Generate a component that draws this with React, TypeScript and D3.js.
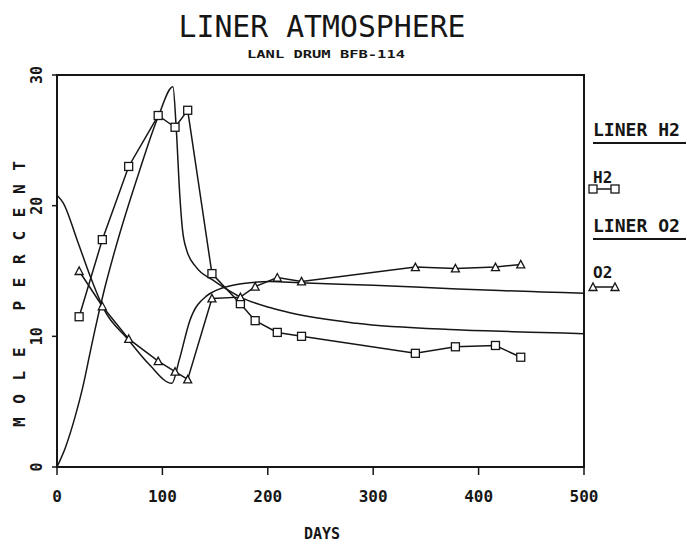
import React from 'react';
import * as d3 from 'd3';

// measured samples (days since closure)
const days = [21, 43, 68, 96, 112, 124, 147, 174, 188, 209, 232, 340, 378, 416, 440];
const h2Measured = [11.5, 17.4, 23.0, 26.9, 26.0, 27.3, 14.8, 12.5, 11.2, 10.3, 10.0, 8.7, 9.2, 9.3, 8.4];
const o2Measured = [15.0, 12.3, 9.8, 8.1, 7.3, 6.7, 12.9, 13.0, 13.8, 14.5, 14.2, 15.3, 15.2, 15.3, 15.5];

// smooth model curves
const h2ModelDays = [0, 8, 17, 25, 31, 36, 45, 55, 78, 96, 110, 113, 116.5, 119, 123, 132, 148, 159, 174, 202, 221, 284, 379, 460, 500];
const h2ModelValues = [0, 1.5, 3.8, 6.3, 8.6, 10.5, 13.6, 16.6, 22.6, 26.8, 29.1, 26.1, 20.8, 18.2, 16.6, 15.3, 14.3, 13.7, 13.0, 12.2, 11.8, 11.0, 10.5, 10.3, 10.2];
const o2ModelDays = [0, 6, 19, 32, 45, 67, 88, 109, 116, 126, 142, 148, 161, 183, 202, 230, 300, 360, 420, 460, 500];
const o2ModelValues = [20.8, 20.2, 17.4, 14.5, 12.0, 9.8, 7.8, 6.4, 8.2, 11.2, 13.1, 13.4, 13.8, 14.1, 14.2, 14.1, 13.9, 13.7, 13.5, 13.4, 13.3];

const xTicks = [0, 100, 200, 300, 400, 500];
const yTicks = [0, 10, 20, 30];

const mono = '"DejaVu Sans Mono", "Liberation Mono", monospace';
const ink = '#161616';

function Square({ cx, cy }) {
  return <rect x={cx - 4} y={cy - 4} width={8} height={8} fill="white" stroke={ink} strokeWidth={1.3} />;
}

function Triangle({ cx, cy }) {
  const p = `${cx - 4},${cy + 3.5} ${cx + 4},${cy + 3.5} ${cx},${cy - 4}`;
  return <polygon points={p} fill="white" stroke={ink} strokeWidth={1.3} />;
}

export default function App() {
  const x = d3.scaleLinear().domain([0, 500]).range([57, 584]);
  const y = d3.scaleLinear().domain([0, 30]).range([467, 75]);

  const line = d3.line().x(d => x(d[0])).y(d => y(d[1]));
  const smooth = d3.line().x(d => x(d[0])).y(d => y(d[1])).curve(d3.curveMonotoneX);

  const h2Pts = days.map((d, i) => [d, h2Measured[i]]);
  const o2Pts = days.map((d, i) => [d, o2Measured[i]]);
  const h2Model = h2ModelDays.map((d, i) => [d, h2ModelValues[i]]);
  const o2Model = o2ModelDays.map((d, i) => [d, o2ModelValues[i]]);

  return (
    <svg width={687} height={544} style={{ position: 'absolute', left: 0, top: 0, background: 'white' }}>
      {/* titles */}
      <text x={322} y={37} textAnchor="middle" fontFamily={mono} fontSize={30} textLength={287} lengthAdjust="spacingAndGlyphs" fill={ink}>LINER ATMOSPHERE</text>
      <text x={326} y={58} textAnchor="middle" fontFamily={mono} fontWeight="bold" fontSize={11} textLength={158} lengthAdjust="spacingAndGlyphs" fill={ink}>LANL DRUM BFB-114</text>

      {/* frame */}
      <rect x={x(0)} y={y(30)} width={x(500) - x(0)} height={y(0) - y(30)} fill="none" stroke={ink} strokeWidth={2} />

      {/* x axis */}
      {xTicks.map(t => (
        <g key={'x' + t}>
          <line x1={x(t)} x2={x(t)} y1={y(0)} y2={y(0) + 8} stroke={ink} strokeWidth={1.5} />
          <text x={x(t)} y={502} textAnchor="middle" fontFamily={mono} fontWeight="bold" fontSize={16} fill={ink}>{t}</text>
        </g>
      ))}
      <text x={322} y={539} textAnchor="middle" fontFamily={mono} fontWeight="bold" fontSize={15} fill={ink}>DAYS</text>

      {/* y axis */}
      {yTicks.map(t => (
        <g key={'y' + t}>
          <line x1={x(0) - 5} x2={x(0)} y1={y(t)} y2={y(t)} stroke={ink} strokeWidth={1.5} />
          <text transform={`translate(42,${y(t)}) rotate(-90)`} textAnchor="middle" fontFamily={mono} fontWeight="bold" fontSize={15} fill={ink}>{t}</text>
        </g>
      ))}
      <text transform="translate(25,294) rotate(-90)" textAnchor="middle" fontFamily={mono} fontWeight="bold" fontSize={16} textLength={266} lengthAdjust="spacing" fill={ink}>MOLE PERCENT</text>

      {/* model curves */}
      <path d={smooth(h2Model)} fill="none" stroke={ink} strokeWidth={1.5} />
      <path d={smooth(o2Model)} fill="none" stroke={ink} strokeWidth={1.5} />

      {/* measured lines */}
      <path d={line(h2Pts)} fill="none" stroke={ink} strokeWidth={1.5} />
      <path d={line(o2Pts)} fill="none" stroke={ink} strokeWidth={1.5} />
      {h2Pts.map((p, i) => <Square key={'s' + i} cx={x(p[0])} cy={y(p[1])} />)}
      {o2Pts.map((p, i) => <Triangle key={'t' + i} cx={x(p[0])} cy={y(p[1])} />)}

      {/* legend */}
      <text x={593} y={136} fontFamily={mono} fontWeight="bold" fontSize={17} textLength={87} lengthAdjust="spacingAndGlyphs" fill={ink}>LINER H2</text>
      <line x1={593} x2={686} y1={143} y2={143} stroke={ink} strokeWidth={2} />
      <text x={593} y={183} fontFamily={mono} fontWeight="bold" fontSize={16} fill={ink}>H2</text>
      <line x1={593} x2={615} y1={189} y2={189} stroke={ink} strokeWidth={1.5} />
      <Square cx={593} cy={189} />
      <Square cx={615} cy={189} />

      <text x={593} y={232} fontFamily={mono} fontWeight="bold" fontSize={17} textLength={87} lengthAdjust="spacingAndGlyphs" fill={ink}>LINER O2</text>
      <line x1={593} x2={686} y1={239} y2={239} stroke={ink} strokeWidth={2} />
      <text x={593} y={278} fontFamily={mono} fontWeight="bold" fontSize={16} fill={ink}>O2</text>
      <line x1={593} x2={615} y1={287} y2={287} stroke={ink} strokeWidth={1.5} />
      <Triangle cx={593} cy={287} />
      <Triangle cx={615} cy={287} />
    </svg>
  );
}
